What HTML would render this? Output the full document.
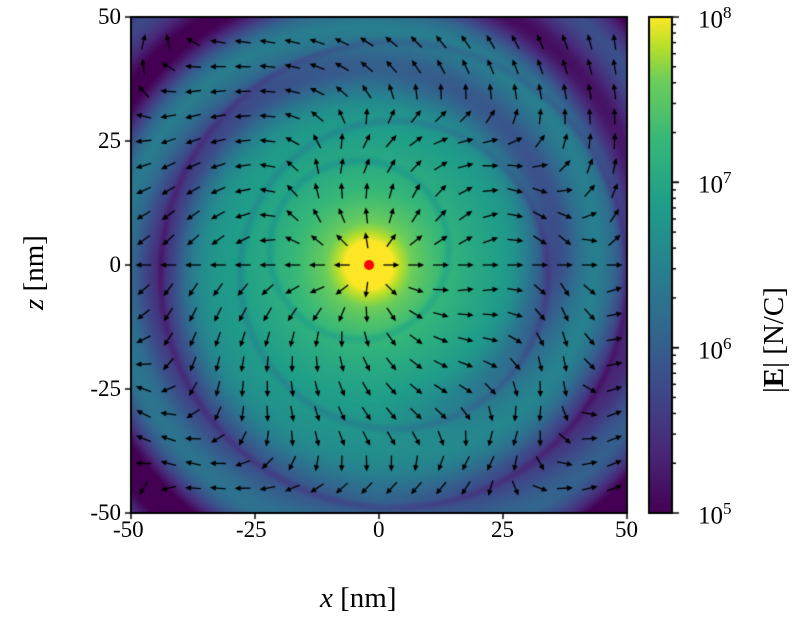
<!DOCTYPE html>
<html><head><meta charset="utf-8">
<style>
html,body{margin:0;padding:0;background:#fff;}
#wrap{position:relative;width:800px;height:628px;overflow:hidden;font-family:"Liberation Serif","DejaVu Serif",serif;color:#000;}
canvas{position:absolute;left:0;top:0;}
.t{position:absolute;font-size:23px;line-height:1;white-space:nowrap;}
</style></head>
<body><div id="wrap">
<canvas id="c" width="800" height="628"></canvas>
<div class="t" style="left:113px;top:518px;">-50</div>
<div class="t" style="left:236px;top:518px;">-25</div>
<div class="t" style="left:373px;top:518px;">0</div>
<div class="t" style="left:491px;top:518px;">25</div>
<div class="t" style="left:615px;top:518px;">50</div>
<div class="t" style="right:679px;top:5px;">50</div>
<div class="t" style="right:679px;top:129px;">25</div>
<div class="t" style="right:679px;top:253px;">0</div>
<div class="t" style="right:679px;top:377px;">-25</div>
<div class="t" style="right:679px;top:501px;">-50</div>
<div class="t" style="left:320px;top:584px;font-size:29px;"><i>x</i> [nm]</div>
<div class="t" style="left:20px;top:310px;font-size:29px;transform:rotate(-90deg);transform-origin:0 0;"><i>z</i> [nm]</div>
<div class="t" style="left:698px;top:4px;font-size:25px;">10<sup style="font-size:17px;">8</sup></div>
<div class="t" style="left:698px;top:169px;font-size:25px;">10<sup style="font-size:17px;">7</sup></div>
<div class="t" style="left:698px;top:335px;font-size:25px;">10<sup style="font-size:17px;">6</sup></div>
<div class="t" style="left:698px;top:500px;font-size:25px;">10<sup style="font-size:17px;">5</sup></div>
<div class="t" style="left:760px;top:393px;font-size:29px;transform:rotate(-90deg);transform-origin:0 0;">|<b>E</b>| [N/C]</div>
</div>
<script>
const cv=document.getElementById('c'),ctx=cv.getContext('2d');
const X0=131,X1=627,Y0=17,Y1=513,W=X1-X0,H=Y1-Y0;
const stops=[[0,[68,1,84]],[0.125,[72,40,120]],[0.25,[62,73,137]],[0.375,[49,104,142]],[0.5,[38,130,142]],[0.625,[31,158,137]],[0.75,[53,183,121]],[0.875,[110,206,88]],[0.9375,[181,222,43]],[1,[253,231,37]]];
function vir(t){t=Math.max(0,Math.min(1,t));for(let i=1;i<stops.length;i++){if(t<=stops[i][0]){const a=stops[i-1],b=stops[i];const f=(t-a[0])/(b[0]-a[0]);return [0,1,2].map(k=>a[1][k]+(b[1][k]-a[1][k])*f);}}return stops[stops.length-1][1];}
const dpts=[[-90,0],[0,0.3],[90,0.2],[180,0.38],[270,0.15],[330,0.35],[450,0.4],[800,0.4]];
function depth(a){if(a<=-90)return 0;for(let i=1;i<dpts.length;i++){if(a<=dpts[i][0]){const p=dpts[i-1],q=dpts[i];return p[1]+(q[1]-p[1])*(a-p[0])/(q[0]-p[0]);}}return 0.4;}
function tval(x,z){
 const r=Math.hypot(x+2,z);
 let L=r<4.5?8.05:8.05-1.5*Math.log10(r/4.5);
 let t=(L-5)/3;
 const rr=Math.hypot(x,z);
 if(rr>50){const s=Math.min(1,(rr-50)/18);t-=0.15*s*s*(3-2*s);}
 let th=Math.atan2(z,x)*180/Math.PI; if(th<0)th+=360;
 let dk=0;
 for(let n=-1;n<=2;n++){const a=th+360*n; if(a<=-90)continue; const rs=35+18*a/360; const g=Math.exp(-Math.pow((rr-rs)/5.5,2)); dk=Math.max(dk,depth(a)*g);}
 t-=dk;
 const r2=Math.hypot(x-3,z+2);
 t-=0.08*Math.exp(-Math.pow((r2-31)/0.8,2))+0.08*Math.exp(-Math.pow((r2-47)/0.8,2));
 const r3=Math.hypot(x+4,z-3);
 t-=0.07*Math.exp(-Math.pow((r3-18)/0.8,2));
 return t;
}
const img=ctx.createImageData(W,H);
for(let j=0;j<H;j++){const z=50-(j+0.5)/H*100;for(let i=0;i<W;i++){const x=-50+(i+0.5)/W*100;const c=vir(tval(x,z));const o=(j*W+i)*4;img.data[o]=c[0];img.data[o+1]=c[1];img.data[o+2]=c[2];img.data[o+3]=255;}}
ctx.putImageData(img,X0,Y0);
const R=2,beta=0.25,om=beta/R,phi0=Math.PI;
function field(x,z){
 let tr=-Math.hypot(x,z);
 for(let i=0;i<40;i++){const p=phi0+om*tr;const nt=-Math.hypot(x-R*Math.cos(p),z-R*Math.sin(p));tr=nt;}
 const p=phi0+om*tr;const sx=R*Math.cos(p),sz=R*Math.sin(p);
 const bx=-beta*Math.sin(p),bz=beta*Math.cos(p);
 const ax=-beta*beta/R*Math.cos(p),az=-beta*beta/R*Math.sin(p);
 const dx=x-sx,dz=z-sz;const d=Math.hypot(dx,dz)||1e-3;const nx=dx/d,nz=dz/d;
 const g2=1-beta*beta;const ux=nx-bx,uz=nz-bz;
 let ex=ux*g2/(d*d),ez=uz*g2/(d*d);const na=nx*ax+nz*az,nu=nx*ux+nz*uz;
 ex+=(ux*na-ax*nu)/d;ez+=(uz*na-az*nu)/d;return [ex,ez];
}
ctx.fillStyle='#000';ctx.strokeStyle='#000';
function px(x){return X0+(x+50)/100*W;}function pz(z){return Y0+(50-z)/100*H;}
for(let zi=-9;zi<=9;zi++){for(let xi=0;xi<20;xi++){const x=-47.5+5*xi,z=5*zi;if(Math.hypot(x+2,z)<3)continue;let e=field(x,z);if(zi==0)e=[x>-2?1:-1,0];const m=Math.hypot(e[0],e[1]);const ux=e[0]/m,uy=-e[1]/m;const cx=px(x),cy=pz(z);const L=16;
 const tx=cx-ux*L/2,ty=cy-uy*L/2,hx=cx+ux*L/2,hy=cy+uy*L/2;
 ctx.lineWidth=1.3;ctx.beginPath();ctx.moveTo(tx,ty);ctx.lineTo(hx-ux*4,hy-uy*4);ctx.stroke();
 ctx.beginPath();ctx.moveTo(hx,hy);ctx.lineTo(hx-ux*6-uy*2.8,hy-uy*6+ux*2.8);ctx.lineTo(hx-ux*6+uy*2.8,hy-uy*6-ux*2.8);ctx.closePath();ctx.fill();}}
ctx.fillStyle='#f00';ctx.beginPath();ctx.arc(px(-2),pz(0),5,0,7);ctx.fill();
ctx.lineWidth=2;ctx.strokeStyle='#000';ctx.strokeRect(X0,Y0,W,H);
ctx.lineWidth=1.5;
for(let k=0;k<5;k++){const x=X0+k*W/4;ctx.beginPath();ctx.moveTo(x,Y1);ctx.lineTo(x,Y1+6);ctx.stroke();const y=Y0+k*H/4;ctx.beginPath();ctx.moveTo(X0,y);ctx.lineTo(X0-6,y);ctx.stroke();}
const CX0=649,CX1=672;
for(let j=0;j<H;j++){const c=vir(1-(j+0.5)/H);ctx.fillStyle='rgb('+c.map(Math.round).join(',')+')';ctx.fillRect(CX0,Y0+j,CX1-CX0,1.2);}
ctx.lineWidth=2;ctx.strokeRect(CX0,Y0,CX1-CX0,H);
ctx.lineWidth=1.5;
for(let d=0;d<3;d++){for(let m=1;m<=10;m++){const v=d+Math.log10(m);const y=Y1-v/3*H;const L=(m==1||m==10)?7:4;ctx.beginPath();ctx.moveTo(CX1,y);ctx.lineTo(CX1+L,y);ctx.stroke();}}
</script>
</body></html>
